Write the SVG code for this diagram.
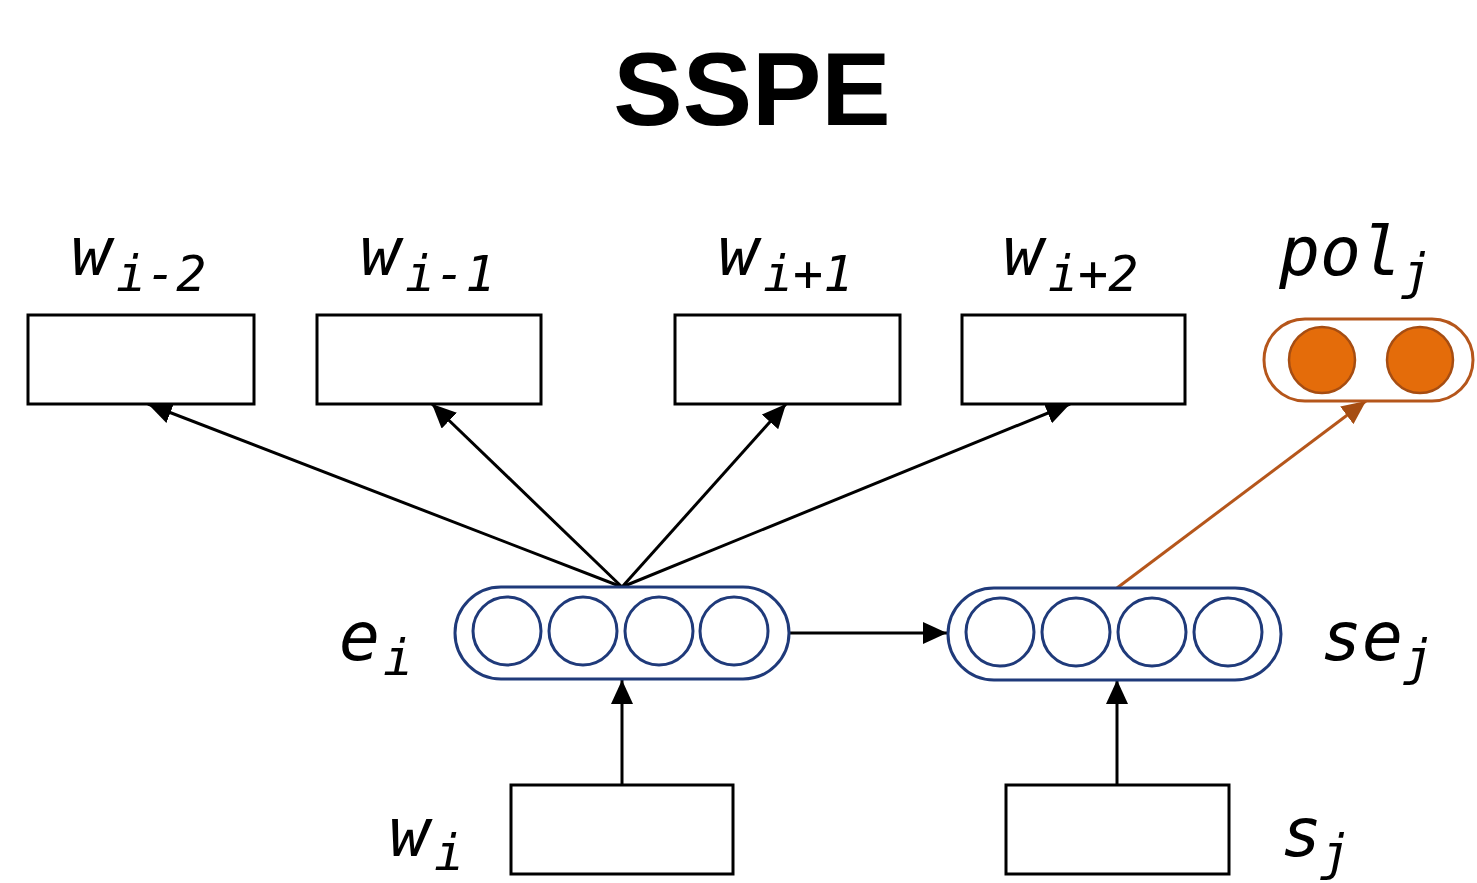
<svg xmlns="http://www.w3.org/2000/svg" width="1477" height="883" viewBox="0 0 1477 883">
<style>
.box{fill:#fff;stroke:#000;stroke-width:3}
.pill{fill:#fff;stroke:#1f3a7a;stroke-width:3}
.cell{fill:#fff;stroke:#1f3a7a;stroke-width:3}
.lbl{font-family:"DejaVu Sans Mono","Liberation Mono",monospace;font-style:italic;font-size:68px;fill:#000}
.sub{font-size:50px}
.title{font-family:"Liberation Sans",Arial,sans-serif;font-weight:bold;font-size:104px;fill:#000}
.edge{stroke:#000;stroke-width:3;fill:none}
.oedge{stroke:#b5561b;stroke-width:3;fill:none}
</style>
<defs>
<marker id="ah" markerUnits="userSpaceOnUse" markerWidth="26" markerHeight="22" refX="24" refY="11" orient="auto"><path d="M0,0 L24,11 L0,22 Z" fill="#000"/></marker>
<marker id="aho" markerUnits="userSpaceOnUse" markerWidth="26" markerHeight="22" refX="24" refY="11" orient="auto"><path d="M0,0 L24,11 L0,22 Z" fill="#a64d12"/></marker>
</defs>
<rect width="1477" height="883" fill="#fff"/>
<text class="title" x="752" y="125" text-anchor="middle">SSPE</text>

<g id="connectors">
<line class="edge" x1="622" y1="587" x2="148" y2="404" marker-end="url(#ah)"/>
<line class="edge" x1="622" y1="587" x2="432" y2="404" marker-end="url(#ah)"/>
<line class="edge" x1="622" y1="587" x2="786" y2="404" marker-end="url(#ah)"/>
<line class="edge" x1="622" y1="587" x2="1070" y2="404" marker-end="url(#ah)"/>
<line class="oedge" x1="1117" y1="588" x2="1366" y2="401" marker-end="url(#aho)"/>
<line class="edge" x1="789" y1="633" x2="947" y2="633" marker-end="url(#ah)"/>
<line class="edge" x1="622" y1="785" x2="622" y2="680" marker-end="url(#ah)"/>
<line class="edge" x1="1117" y1="785" x2="1117" y2="680" marker-end="url(#ah)"/>
</g>

<g id="w_im2">
<rect class="box" x="28" y="315" width="226" height="89"/>
<text class="lbl" x="71" y="275">w</text><text class="lbl sub" x="116" y="291">i-2</text>
</g>
<g id="w_im1">
<rect class="box" x="317" y="315" width="224" height="89"/>
<text class="lbl" x="360" y="275">w</text><text class="lbl sub" x="405" y="291">i-1</text>
</g>
<g id="w_ip1">
<rect class="box" x="675" y="315" width="225" height="89"/>
<text class="lbl" x="718" y="275">w</text><text class="lbl sub" x="763" y="291">i+1</text>
</g>
<g id="w_ip2">
<rect class="box" x="962" y="315" width="223" height="89"/>
<text class="lbl" x="1003" y="275">w</text><text class="lbl sub" x="1048" y="291">i+2</text>
</g>
<g id="pol_j">
<rect x="1264" y="319" width="209" height="82" rx="41" fill="#fff" stroke="#b5561b" stroke-width="3"/>
<circle cx="1322" cy="360" r="33" fill="#e46c0a" stroke="#a64d12" stroke-width="2.5"/>
<circle cx="1420" cy="360" r="33" fill="#e46c0a" stroke="#a64d12" stroke-width="2.5"/>
<text class="lbl" x="1279" y="275">pol</text><text class="lbl sub" x="1401" y="289">j</text>
</g>
<g id="e_i">
<rect class="pill" x="455" y="587" width="334" height="92" rx="46"/>
<circle class="cell" cx="507" cy="631" r="34"/>
<circle class="cell" cx="583" cy="631" r="34"/>
<circle class="cell" cx="659" cy="631" r="34"/>
<circle class="cell" cx="734" cy="631" r="34"/>
<text class="lbl" x="339" y="660">e</text><text class="lbl sub" x="383" y="675">i</text>
</g>
<g id="se_j">
<rect class="pill" x="948" y="588" width="333" height="92" rx="46"/>
<circle class="cell" cx="1000" cy="632" r="34"/>
<circle class="cell" cx="1076" cy="632" r="34"/>
<circle class="cell" cx="1152" cy="632" r="34"/>
<circle class="cell" cx="1228" cy="632" r="34"/>
<text class="lbl" x="1321" y="660">se</text><text class="lbl sub" x="1403" y="675">j</text>
</g>
<g id="w_i">
<rect class="box" x="511" y="785" width="222" height="89"/>
<text class="lbl" x="389" y="856">w</text><text class="lbl sub" x="434" y="870">i</text>
</g>
<g id="s_j">
<rect class="box" x="1006" y="785" width="223" height="89"/>
<text class="lbl" x="1281" y="856">s</text><text class="lbl sub" x="1320" y="870">j</text>
</g>
</svg>
